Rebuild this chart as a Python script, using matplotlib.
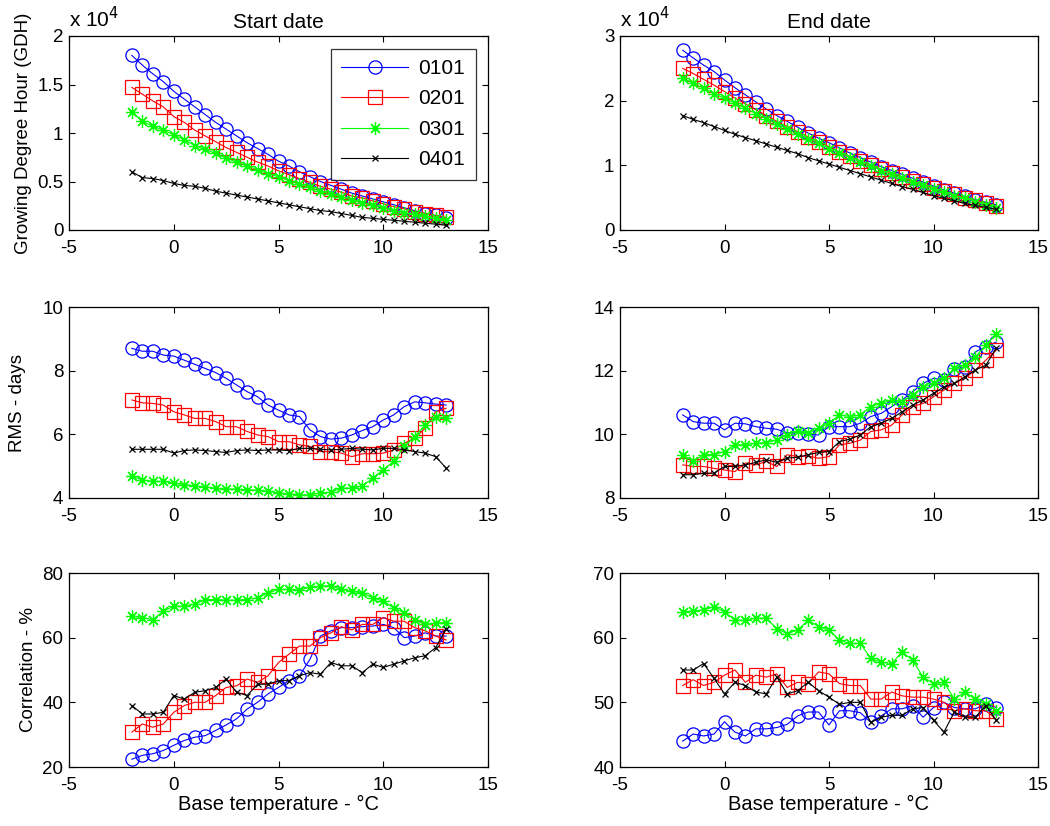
import numpy as np
import matplotlib
matplotlib.use("Agg")
import matplotlib.pyplot as plt

plt.rcParams['font.family'] = ['Liberation Sans', 'DejaVu Sans']
plt.rcParams['axes.unicode_minus'] = False

# Base temperature (°C)
base_temp = np.arange(-2, 13.01, 0.5)
series_names = ["0101", "0201", "0301", "0401"]

# ---- Growing Degree Hour, start date (GDH) ----
gdh_start_0101 = [18000, 17000, 16100, 15300, 14300, 13500, 12700, 11900, 11100, 10400, 9700, 9000, 8400, 7800, 7100, 6600,
                  6000, 5500, 5000, 4600, 4200, 3800, 3500, 3200, 2900, 2600, 2300, 2000, 1700, 1500, 1200]
gdh_start_0201 = [14700, 14000, 13300, 12700, 11700, 11100, 10300, 9700, 9100, 8500, 8000, 7500, 7000, 6600, 6100, 5700,
                  5300, 4900, 4500, 4200, 3900, 3500, 3300, 3000, 2700, 2400, 2200, 1900, 1700, 1500, 1300]
gdh_start_0301 = [12200, 11200, 10700, 10300, 9800, 9300, 8700, 8300, 7900, 7400, 7000, 6600, 6200, 5800, 5500, 5100,
                  4700, 4400, 4000, 3700, 3400, 3100, 2800, 2600, 2300, 2000, 1800, 1600, 1400, 1200, 1000]
gdh_start_0401 = [6000, 5400, 5300, 5100, 4800, 4600, 4500, 4300, 4000, 3800, 3600, 3400, 3200, 3000, 2800, 2600,
                  2400, 2200, 2000, 1900, 1700, 1500, 1300, 1200, 1100, 1000, 900, 800, 700, 600, 500]

# ---- Growing Degree Hour, end date (GDH) ----
gdh_end_0101 = [27800, 26600, 25500, 24500, 23200, 22000, 20900, 19800, 18700, 17700, 16800, 15900, 15000, 14200, 13500, 12700,
                11900, 11200, 10500, 9800, 9200, 8600, 8000, 7400, 6800, 6200, 5700, 5200, 4700, 4300, 3900]
gdh_end_0201 = [25000, 24200, 23300, 22400, 21400, 20400, 19500, 18600, 17700, 16800, 16000, 15200, 14400, 13600, 12900, 12100,
                11400, 10700, 10000, 9400, 8800, 8200, 7600, 7100, 6500, 6000, 5500, 5000, 4600, 4200, 3700]
gdh_end_0301 = [23500, 22700, 21900, 21100, 20400, 19600, 18800, 18000, 17200, 16400, 15600, 14800, 14100, 13400, 12600, 11900,
                11200, 10500, 9900, 9200, 8600, 8000, 7400, 6900, 6300, 5800, 5300, 4900, 4400, 3900, 3400]
gdh_end_0401 = [17700, 17100, 16600, 16000, 15400, 14800, 14300, 13800, 13300, 12800, 12300, 11800, 11200, 10700, 10200, 9700,
                9200, 8700, 8200, 7700, 7200, 6700, 6300, 5800, 5300, 4900, 4500, 4100, 3800, 3500, 3200]

# ---- RMS (days), start date ----
rms_start_0101 = [8.70, 8.61, 8.61, 8.49, 8.46, 8.33, 8.20, 8.07, 7.94, 7.76, 7.55, 7.34, 7.18, 6.92, 6.76, 6.61,
                  6.56, 6.14, 5.93, 5.85, 5.88, 5.98, 6.12, 6.24, 6.45, 6.61, 6.87, 7.02, 6.99, 6.95, 6.92]
rms_start_0201 = [7.08, 6.99, 6.97, 6.92, 6.71, 6.61, 6.50, 6.50, 6.40, 6.24, 6.24, 6.09, 5.98, 5.93, 5.77, 5.77,
                  5.67, 5.62, 5.46, 5.46, 5.41, 5.30, 5.39, 5.39, 5.41, 5.51, 5.72, 5.88, 6.19, 6.71, 6.82]
rms_start_0301 = [4.68, 4.57, 4.52, 4.52, 4.47, 4.42, 4.38, 4.34, 4.31, 4.28, 4.28, 4.26, 4.24, 4.21, 4.16, 4.13,
                  4.10, 4.10, 4.16, 4.18, 4.31, 4.31, 4.38, 4.62, 4.89, 5.15, 5.62, 5.93, 6.29, 6.56, 6.50]
rms_start_0401 = [5.53, 5.53, 5.53, 5.53, 5.41, 5.49, 5.51, 5.49, 5.46, 5.43, 5.49, 5.51, 5.49, 5.51, 5.51, 5.49,
                  5.56, 5.56, 5.53, 5.51, 5.53, 5.56, 5.53, 5.51, 5.56, 5.56, 5.51, 5.46, 5.41, 5.30, 4.94]

# ---- RMS (days), end date ----
rms_end_0101 = [10.61, 10.40, 10.35, 10.35, 10.14, 10.35, 10.33, 10.24, 10.19, 10.16, 10.05, 10.05, 10.01, 9.98, 10.24, 10.24,
                10.24, 10.35, 10.56, 10.66, 10.87, 11.08, 11.34, 11.60, 11.76, 11.70, 12.04, 12.10, 12.59, 12.75, 12.90]
rms_end_0201 = [9.04, 8.99, 8.99, 8.93, 8.88, 8.83, 9.10, 9.04, 9.15, 8.99, 9.36, 9.30, 9.32, 9.25, 9.30, 9.67,
                9.72, 9.82, 10.09, 10.14, 10.29, 10.61, 10.87, 10.97, 11.18, 11.39, 11.60, 11.76, 12.02, 12.33, 12.64]
rms_end_0301 = [9.36, 9.15, 9.36, 9.36, 9.46, 9.67, 9.67, 9.72, 9.74, 9.82, 9.98, 10.09, 10.03, 10.19, 10.35, 10.61,
                10.56, 10.61, 10.87, 10.97, 11.08, 11.03, 11.23, 11.49, 11.60, 11.76, 12.07, 12.17, 12.43, 12.80, 13.16]
rms_end_0401 = [8.73, 8.73, 8.78, 8.78, 8.99, 8.99, 9.04, 9.12, 9.20, 9.12, 9.25, 9.28, 9.36, 9.43, 9.46, 9.77,
                9.85, 9.98, 10.24, 10.35, 10.50, 10.71, 10.92, 11.08, 11.29, 11.49, 11.60, 11.81, 12.02, 12.17, 12.70]

# ---- Correlation (%), start date ----
cor_start_0101 = [22.4, 23.6, 24.1, 25.1, 26.7, 28.2, 29.2, 29.7, 31.3, 33.0, 34.9, 37.9, 40.0, 42.6, 44.6, 46.7,
                  48.2, 53.3, 60.5, 62.1, 63.1, 63.1, 63.4, 63.6, 64.1, 63.1, 60.0, 60.5, 61.5, 60.5, 60.5]
cor_start_0201 = [30.8, 33.3, 32.3, 33.3, 36.9, 39.0, 40.0, 40.0, 42.1, 44.6, 45.1, 47.2, 46.2, 48.2, 52.3, 54.9,
                  57.4, 57.4, 60.0, 61.5, 63.4, 62.4, 64.1, 64.1, 66.2, 65.1, 65.1, 63.1, 62.1, 60.5, 59.3]
cor_start_0301 = [66.7, 66.2, 65.6, 68.2, 69.7, 69.7, 70.3, 71.8, 71.8, 71.6, 71.6, 71.8, 72.3, 73.8, 74.9, 74.9,
                  74.7, 75.7, 75.9, 76.1, 74.9, 74.4, 73.8, 72.3, 71.3, 69.2, 67.7, 65.6, 64.1, 64.6, 64.6]
cor_start_0401 = [39.0, 36.4, 36.4, 36.9, 42.1, 41.0, 43.1, 43.6, 44.6, 47.2, 43.1, 42.1, 45.6, 45.6, 46.7, 46.7,
                  48.2, 49.2, 48.7, 52.3, 51.3, 51.3, 49.2, 51.8, 50.8, 51.8, 52.8, 53.8, 54.4, 56.9, 62.6]

# ---- Correlation (%), end date ----
cor_end_0101 = [44.0, 45.1, 44.8, 45.1, 47.0, 45.4, 44.8, 45.9, 45.9, 46.1, 46.6, 47.9, 48.5, 48.5, 46.5, 48.7,
                48.7, 48.4, 46.9, 47.9, 49.0, 49.0, 49.5, 47.7, 49.2, 50.0, 49.2, 49.0, 49.0, 49.7, 49.2]
cor_end_0201 = [52.6, 53.5, 52.6, 53.1, 54.2, 55.0, 53.1, 54.2, 53.9, 54.4, 52.3, 53.1, 52.9, 54.7, 54.4, 52.9,
                52.6, 52.6, 50.5, 50.5, 51.6, 51.0, 50.8, 50.8, 50.5, 50.0, 48.7, 49.0, 48.7, 48.7, 47.4]
cor_end_0301 = [64.0, 64.1, 64.3, 64.8, 64.0, 62.7, 62.7, 63.0, 63.0, 61.4, 60.6, 61.2, 62.7, 61.7, 61.2, 59.6,
                59.1, 59.1, 56.8, 56.2, 56.0, 57.8, 56.5, 53.9, 52.9, 53.1, 50.5, 51.6, 50.5, 49.7, 48.7]
cor_end_0401 = [55.0, 55.0, 56.0, 53.7, 51.3, 53.1, 52.6, 51.6, 51.3, 53.9, 51.3, 51.8, 53.1, 51.8, 50.8, 49.7,
                50.0, 50.0, 46.9, 47.7, 48.0, 48.0, 49.0, 49.2, 47.2, 45.4, 48.5, 47.7, 47.7, 49.5, 47.2]

x_ticks = [-5, 0, 5, 10, 15]
y_ticks = {
    "gdh_start": [0, 0.5, 1, 1.5, 2],
    "gdh_end": [0, 1, 2, 3],
    "rms_start": [4, 6, 8, 10],
    "rms_end": [8, 10, 12, 14],
    "cor_start": [20, 40, 60, 80],
    "cor_end": [40, 50, 60, 70],
}

styles = [
    dict(color=(0, 0, 1), marker='o', markersize=9.5, mfc='none', mew=0.9),
    dict(color=(1, 0, 0), marker='s', markersize=10, mfc='none', mew=0.9),
    dict(color=(0, 1, 0), marker=(8, 2, 0), markersize=9, mew=0.9),
    dict(color=(0, 0, 0), marker='x', markersize=5, mew=0.9),
]

fig = plt.figure(figsize=(10.5, 8.26), dpi=100)

W, H = 1050, 826
def pos(left, top, right, bottom):
    return [left / W, 1 - bottom / H, (right - left) / W, (bottom - top) / H]

cols = [(69, 488), (620, 1038)]
rows = [(36, 230), (307, 498), (573, 767)]

panels = [
    (0, 0, [np.array(s) / 1e4 for s in (gdh_start_0101, gdh_start_0201, gdh_start_0301, gdh_start_0401)], y_ticks["gdh_start"]),
    (0, 1, [np.array(s) / 1e4 for s in (gdh_end_0101, gdh_end_0201, gdh_end_0301, gdh_end_0401)], y_ticks["gdh_end"]),
    (1, 0, [rms_start_0101, rms_start_0201, rms_start_0301, rms_start_0401], y_ticks["rms_start"]),
    (1, 1, [rms_end_0101, rms_end_0201, rms_end_0301, rms_end_0401], y_ticks["rms_end"]),
    (2, 0, [cor_start_0101, cor_start_0201, cor_start_0301, cor_start_0401], y_ticks["cor_start"]),
    (2, 1, [cor_end_0101, cor_end_0201, cor_end_0301, cor_end_0401], y_ticks["cor_end"]),
]

FS = 13.5
axes = {}
for r, c, data, yt in panels:
    ax = fig.add_axes(pos(cols[c][0], rows[r][0], cols[c][1], rows[r][1]))
    axes[(r, c)] = ax
    for name, vals, st in zip(series_names, data, styles):
        ax.plot(base_temp, vals, linestyle='-', linewidth=0.8, label=name, **st)
    ax.set_xlim(-5, 15)
    ax.set_ylim(yt[0], yt[-1])
    ax.set_xticks(x_ticks)
    ax.set_yticks(yt)
    ax.set_yticklabels([f"{v:g}" for v in yt])
    ax.tick_params(direction='in', top=True, right=True, length=4, width=0.8,
                   labelsize=FS, colors='black')
    ax.tick_params(axis='x', pad=7)
    ax.tick_params(axis='y', pad=4)
    for sp in ax.spines.values():
        sp.set_linewidth(0.9)

axes[(0, 0)].set_title("Start date", fontsize=15, pad=6)
axes[(0, 1)].set_title("End date", fontsize=15, pad=6)
for c in (0, 1):
    axes[(0, c)].text(0.0, 1.025, r"x 10$^{4}$", transform=axes[(0, c)].transAxes,
                      fontsize=15, ha='left', va='bottom')
    axes[(2, c)].set_xlabel("Base temperature - °C", fontsize=14.5, labelpad=1)

axes[(0, 0)].set_ylabel("Growing Degree Hour (GDH)", fontsize=FS, labelpad=4)
axes[(1, 0)].set_ylabel("RMS - days", fontsize=FS, labelpad=12)
axes[(2, 0)].set_ylabel("Correlation - %", fontsize=FS, labelpad=4)

leg = axes[(0, 0)].legend(loc='upper right', fontsize=15, frameon=True, fancybox=False,
                          edgecolor='black', handlelength=3.2, handletextpad=0.5,
                          borderpad=0.5, labelspacing=0.55, borderaxespad=0.6)
leg.get_frame().set_linewidth(0.9)

fig.savefig("out.png", dpi=100)
